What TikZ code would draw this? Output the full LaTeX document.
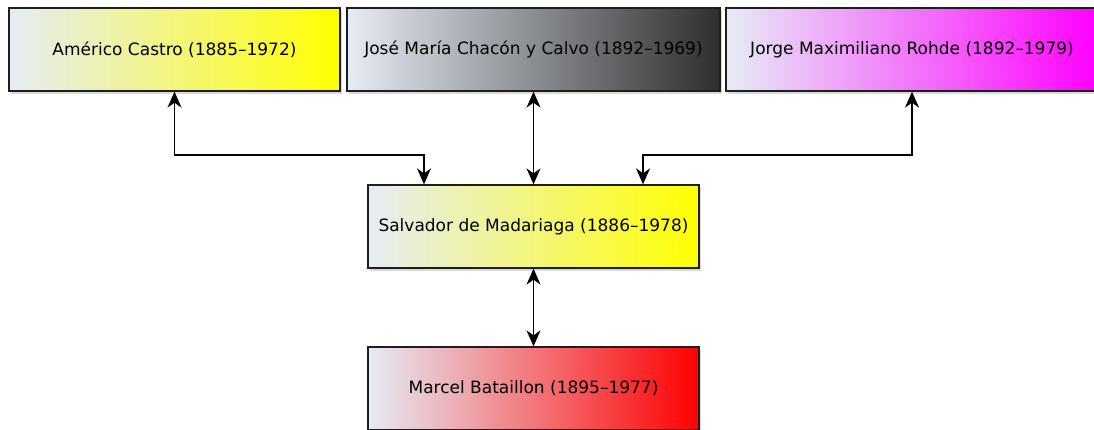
\documentclass[tikz,border=0pt]{standalone}
\usepackage{fontspec}
\setmainfont{DejaVu Sans}
\usepackage{xcolor}
\usetikzlibrary{arrows.meta,shadows}
\definecolor{PFade}{HTML}{E6ECF5}
\definecolor{PEdge}{HTML}{1E1E1E}
\definecolor{PYellow}{HTML}{FFFF00}
\definecolor{PGray}{HTML}{2E2E2E}
\definecolor{PMagenta}{HTML}{FF00FF}
\definecolor{PRed}{HTML}{FF0000}

\begin{document}
\begin{tikzpicture}[
  x=1pt,y=-1pt,
  every node/.style={font=\fontsize{17}{20}\selectfont},
  person/.style={draw=PEdge,line width=1.3pt,inner sep=0pt,
    minimum height=83pt,left color=PFade,
    drop shadow={shadow xshift=2pt,shadow yshift=-2.5pt,opacity=0.3}},
  link/.style={{Stealth[length=16pt,width=14pt,inset=5pt]}-{Stealth[length=16pt,width=14pt,inset=5pt]},
    line width=1.3pt,color=black}
]
  \clip (0,0) rectangle (1094,429);
  \node[person,minimum width=331pt,right color=PYellow] (castro) at (174.5,49.5)
    {Américo Castro (1885–1972)};
  \node[person,minimum width=373pt,right color=PGray] (chacon) at (533.5,49.5)
    {José María Chacón y Calvo (1892–1969)};
  \node[person,minimum width=372pt,right color=PMagenta] (rohde) at (912,49.5)
    {Jorge Maximiliano Rohde (1892–1979)};
  \node[person,minimum width=331pt,right color=PYellow] (madariaga) at (533.5,226.5)
    {Salvador de Madariaga (1886–1978)};
  \node[person,minimum width=331pt,right color=PRed] (bataillon) at (533.5,388.5)
    {Marcel Bataillon (1895–1977)};

  \draw[link] (castro.south) -- (castro.south |- 0,155)
    -| ([xshift=-109.5pt]madariaga.north);
  \draw[link] (chacon.south) -- (madariaga.north);
  \draw[link] (rohde.south) -- (rohde.south |- 0,155)
    -| ([xshift=109.5pt]madariaga.north);
  \draw[link] (madariaga.south) -- (bataillon.north);
\end{tikzpicture}
\end{document}
